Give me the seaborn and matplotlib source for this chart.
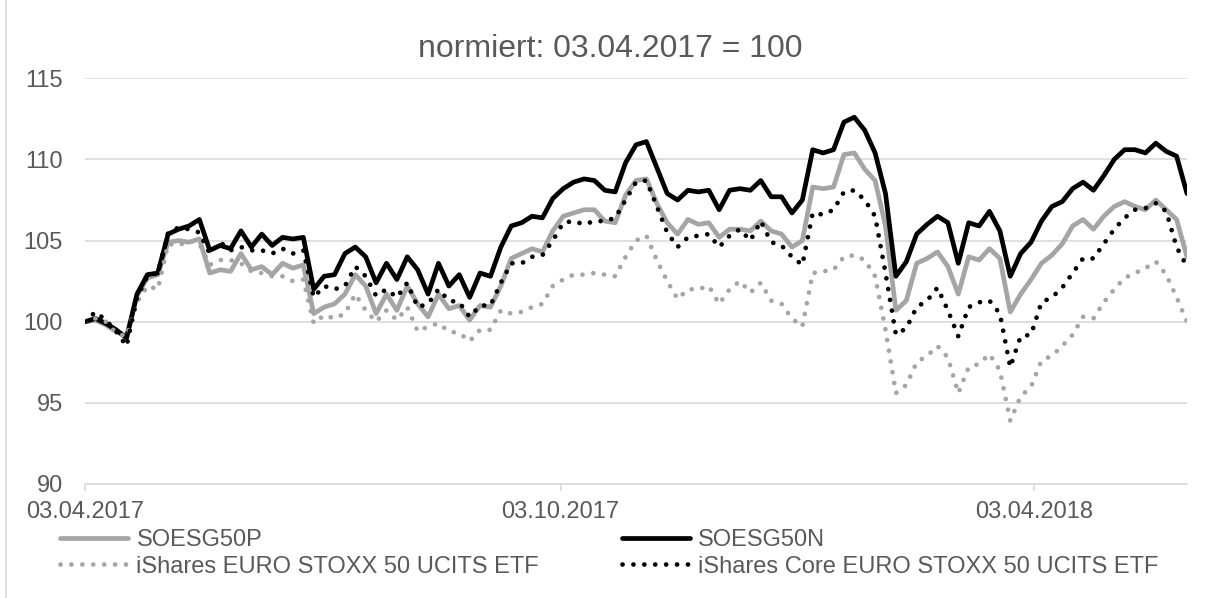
import pandas as pd
import numpy as np
import matplotlib.pyplot as plt
import matplotlib.lines as mlines
import seaborn as sns

# --- Konfiguration ---
sns.set_theme(style="white")
plt.rcParams['font.family'] = ['Liberation Sans', 'DejaVu Sans']

# Stuetzstellen alle 4 Kalendertage ab 03.04.2017 (bis 01.06.2018)
dates = pd.date_range('2017-04-03', periods=107, freq='4D')

soesg50p = [
    100.0, 100.1, 99.8, 99.4, 99.1, 101.6, 102.7, 102.9, 104.9, 105.0,
    104.9, 105.1, 103.0, 103.2, 103.1, 104.2, 103.2, 103.4, 102.9, 103.6,
    103.3, 103.5, 100.5, 100.9, 101.1, 101.7, 102.9, 102.2, 100.5, 101.7,
    100.7, 102.2, 101.1, 100.3, 101.7, 100.8, 101.0, 100.1, 101.0, 100.9,
    102.2, 103.9, 104.2, 104.5, 104.3, 105.6, 106.5, 106.7, 106.9, 106.9,
    106.2, 106.1, 107.8, 108.7, 108.8, 107.3, 106.1, 105.4, 106.3, 106.0,
    106.1, 105.2, 105.7, 105.7, 105.6, 106.2, 105.6, 105.4, 104.6, 105.0,
    108.3, 108.2, 108.3, 110.3, 110.4, 109.4, 108.7, 105.9, 100.7, 101.3,
    103.6, 103.9, 104.3, 103.4, 101.7, 104.0, 103.8, 104.5, 103.9, 100.6,
    101.7, 102.6, 103.6, 104.1, 104.8, 105.9, 106.3, 105.7, 106.5, 107.1,
    107.4, 107.1, 106.9, 107.5, 106.9, 106.3, 104.0,
]
soesg50n = [
    100.0, 100.2, 99.9, 99.5, 99.0, 101.7, 102.9, 103.0, 105.4, 105.7,
    105.9, 106.3, 104.4, 104.7, 104.5, 105.6, 104.6, 105.4, 104.7, 105.2,
    105.1, 105.2, 102.0, 102.8, 102.9, 104.2, 104.6, 104.0, 102.4, 103.6,
    102.6, 104.0, 103.2, 101.7, 103.6, 102.2, 102.9, 101.5, 103.0, 102.8,
    104.6, 105.9, 106.1, 106.5, 106.4, 107.6, 108.2, 108.6, 108.8, 108.7,
    108.1, 108.0, 109.8, 110.9, 111.1, 109.5, 107.9, 107.5, 108.1, 108.0,
    108.1, 106.9, 108.1, 108.2, 108.1, 108.7, 107.7, 107.7, 106.7, 107.5,
    110.6, 110.4, 110.6, 112.3, 112.6, 111.8, 110.4, 107.9, 102.8, 103.7,
    105.4, 106.0, 106.5, 106.1, 103.6, 106.1, 105.9, 106.8, 105.6, 102.8,
    104.2, 104.9, 106.2, 107.1, 107.4, 108.2, 108.6, 108.1, 109.0, 110.0,
    110.6, 110.6, 110.4, 111.0, 110.5, 110.2, 107.9,
]
ishares_stoxx = [
    100.0, 100.2, 100.0, 99.3, 99.1, 101.2, 102.2, 102.0, 104.8, 104.7,
    105.0, 104.8, 103.5, 103.8, 103.8, 103.6, 103.1, 103.0, 102.8, 102.8,
    102.5, 102.6, 99.9, 100.4, 100.2, 100.5, 101.7, 100.7, 100.0, 100.7,
    100.1, 100.9, 99.4, 99.7, 99.9, 99.4, 99.3, 98.8, 99.5, 99.5,
    100.7, 100.5, 100.6, 100.9, 101.1, 102.2, 102.6, 102.9, 102.9, 103.0,
    102.9, 102.8, 104.0, 105.0, 105.3, 103.8, 102.5, 101.4, 102.0, 102.0,
    102.2, 101.1, 102.0, 102.5, 101.8, 102.4, 101.3, 101.1, 100.2, 99.7,
    103.0, 103.1, 103.2, 104.0, 104.1, 103.8, 102.8, 99.5, 95.6, 96.1,
    97.5, 97.9, 98.5, 97.8, 95.6, 97.2, 97.4, 98.0, 97.0, 93.9,
    95.4, 96.0, 97.6, 97.9, 98.5, 99.2, 100.3, 100.2, 101.2, 102.0,
    102.7, 103.0, 103.3, 103.7, 102.9, 101.5, 100.0,
]
ishares_core = [
    100.0, 100.6, 100.1, 99.4, 98.5, 101.5, 102.8, 103.0, 105.5, 105.8,
    105.7, 105.5, 104.2, 104.9, 104.4, 104.6, 104.4, 104.4, 104.2, 104.5,
    104.2, 104.4, 101.5, 102.2, 102.0, 102.2, 103.4, 102.8, 101.6, 102.0,
    101.5, 102.4, 100.9, 101.1, 102.0, 101.3, 101.2, 100.3, 101.0, 101.0,
    102.4, 103.6, 103.6, 104.0, 104.1, 105.0, 106.1, 106.2, 106.0, 106.2,
    106.2, 106.4, 107.5, 108.6, 108.7, 107.1, 105.5, 104.6, 105.2, 105.3,
    105.4, 104.6, 105.3, 105.7, 105.0, 106.2, 104.9, 104.7, 104.0, 103.5,
    106.7, 106.6, 106.9, 108.0, 108.1, 107.5, 106.5, 103.0, 99.2, 99.6,
    100.9, 101.3, 102.1, 100.7, 99.1, 100.9, 101.2, 101.3, 100.5, 97.2,
    99.1, 99.2, 101.2, 101.5, 102.1, 103.0, 103.9, 103.9, 104.8, 105.7,
    106.4, 106.9, 107.0, 107.3, 106.8, 104.6, 103.4,
]

tick_dates = pd.to_datetime(['2017-04-03', '2017-10-03', '2018-04-03'])
tick_labels = ['03.04.2017', '03.10.2017', '03.04.2018']

df = pd.DataFrame({
    'Datum': dates,
    'SOESG50P': soesg50p,
    'SOESG50N': soesg50n,
    'iShares EURO STOXX 50 UCITS ETF': ishares_stoxx,
    'iShares Core EURO STOXX 50 UCITS ETF': ishares_core,
})

GRAU = '#A5A5A5'
TEXT = '#595959'
GITTER = '#D9D9D9'
dot = (0, (0.01, 2.3))
LW = 3.4

styles = {
    'SOESG50P': dict(color=GRAU, linestyle='-'),
    'SOESG50N': dict(color='black', linestyle='-'),
    'iShares EURO STOXX 50 UCITS ETF': dict(color=GRAU, linestyle=dot),
    'iShares Core EURO STOXX 50 UCITS ETF': dict(color='black', linestyle=dot),
}

fig = plt.figure(figsize=(12.13, 5.98), dpi=100)
ax = fig.add_axes([85 / 1213, 1 - 484 / 598, (1187 - 85) / 1213, (484 - 78.3) / 598])

for name, st in styles.items():
    sns.lineplot(data=df, x='Datum', y=name, ax=ax, lw=LW,
                 solid_capstyle='round', solid_joinstyle='round',
                 dash_capstyle='round', label=name, legend=False, **st)

ax.set_xlim(dates[0], dates[-1])
ax.set_ylim(90, 115)
ax.set_yticks(np.arange(90, 116, 5))
ax.set_xticks(tick_dates)
ax.set_xticklabels(tick_labels)
ax.set_xlabel('')
ax.set_ylabel('')

ax.yaxis.grid(True, color=GITTER, lw=1.2)
ax.xaxis.grid(False)
for s in ['top', 'right', 'left']:
    ax.spines[s].set_visible(False)
ax.spines['bottom'].set_color(GITTER)
ax.spines['bottom'].set_linewidth(1.2)
ax.tick_params(axis='y', length=0, pad=16, labelsize=17, labelcolor=TEXT)
ax.tick_params(axis='x', length=5, width=1.2, color=GITTER, direction='out',
               pad=7, labelsize=17, labelcolor=TEXT, bottom=True)

fig.text(0.503, 1 - 49 / 598, 'normiert: 03.04.2017 = 100', ha='center', va='center',
         fontsize=23, color=TEXT)

# Legende: Spaltenweise -> P, iShares | N, Core
order = ['SOESG50P', 'iShares EURO STOXX 50 UCITS ETF',
         'SOESG50N', 'iShares Core EURO STOXX 50 UCITS ETF']
handles = [mlines.Line2D([], [], lw=LW, dash_capstyle='round', **styles[n]) for n in order]
leg = fig.legend(handles, order, ncol=2, loc='upper left',
                 bbox_to_anchor=(60 / 1213, 1 - 529 / 598), frameon=False,
                 fontsize=17, handlelength=2.9, handletextpad=0.34,
                 columnspacing=3.5, labelspacing=0.2, borderpad=0, borderaxespad=0)
for t in leg.get_texts():
    t.set_color(TEXT)

# linker Rahmen des Diagrammbereichs
fig.add_artist(mlines.Line2D([6 / 1213, 6 / 1213], [0, 1], color=GITTER, lw=1.2))

fig.savefig('out.png', dpi=100)
